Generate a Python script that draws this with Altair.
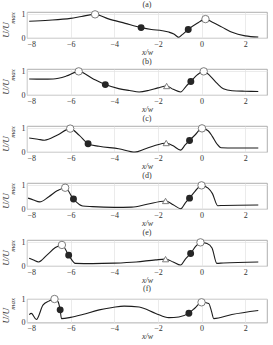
import altair as alt
import pandas as pd

FONT = "Liberation Serif"
X_TICKS = [-8, -6, -4, -2, 0, 2]
Y_TICKS = [0, 0.5, 1]
LABELS = ["(a)", "(b)", "(c)", "(d)", "(e)", "(f)"]

# velocity profiles U/Umax along x/w
a_x = [-7.9, -7.0, -6.0, -5.5, -4.88, -4.3, -3.5, -2.77, -2.3, -1.8, -1.5, -1.27, -1.04, -0.89, -0.61, -0.2, 0.18, 0.5, 0.94, 1.4, 2.0, 2.6]
a_y = [0.71, 0.75, 0.83, 0.91, 1.0, 0.82, 0.62, 0.44, 0.36, 0.31, 0.25, 0.17, 0.03, 0.14, 0.36, 0.62, 0.8, 0.67, 0.46, 0.24, 0.09, 0.04]

b_x = [-7.9, -7.3, -6.8, -6.2, -5.63, -5.0, -4.41, -3.8, -3.3, -2.86, -2.4, -2.0, -1.6, -1.3, -0.96, -0.7, -0.49, -0.2, 0.1, 0.4, 0.7, 1.0, 1.4, 2.0, 2.6]
b_y = [0.68, 0.67, 0.68, 0.8, 1.0, 0.7, 0.44, 0.27, 0.19, 0.13, 0.2, 0.3, 0.38, 0.24, 0.13, 0.38, 0.57, 0.85, 1.0, 0.8, 0.5, 0.26, 0.18, 0.16, 0.15]

c_x = [-7.9, -7.5, -7.2, -6.6, -6.02, -5.6, -5.2, -4.7, -3.8, -3.05, -2.6, -2.2, -1.62, -1.3, -0.96, -0.75, -0.55, -0.3, 0.02, 0.3, 0.5, 0.7, 0.9, 1.5, 2.6]
c_y = [0.59, 0.54, 0.5, 0.72, 0.99, 0.7, 0.35, 0.24, 0.14, 0.0, 0.13, 0.25, 0.38, 0.26, 0.08, 0.3, 0.49, 0.72, 1.0, 0.9, 0.65, 0.35, 0.18, 0.17, 0.17]

d_x = [-7.95, -7.7, -7.42, -7.0, -6.6, -6.25, -5.87, -5.45, -5.0, -4.0, -3.2, -2.5, -1.65, -1.3, -0.95, -0.75, -0.55, -0.3, 0.0, 0.3, 0.5, 0.74, 1.0, 2.6]
d_y = [0.46, 0.38, 0.3, 0.52, 0.78, 0.9, 0.42, 0.13, 0.1, 0.07, 0.08, 0.2, 0.34, 0.18, 0.01, 0.25, 0.46, 0.75, 1.0, 0.88, 0.65, 0.14, 0.15, 0.17]

e_x = [-7.9, -7.7, -7.47, -7.1, -6.7, -6.4, -6.09, -5.78, -5.0, -4.0, -3.0, -2.1, -1.65, -1.3, -0.96, -0.75, -0.5, -0.25, -0.05, 0.25, 0.48, 0.7, 1.0, 2.6]
e_y = [0.33, 0.25, 0.17, 0.45, 0.78, 0.89, 0.46, 0.11, 0.1, 0.12, 0.17, 0.26, 0.29, 0.17, 0.04, 0.28, 0.53, 0.85, 1.0, 0.95, 0.76, 0.11, 0.13, 0.17]

f_x = [-7.9, -7.8, -7.57, -7.27, -7.0, -6.74, -6.58, -6.48, -6.42, -6.0, -5.45, -4.69, -4.08, -3.55, -2.86, -2.1, -1.5, -1.04, -0.58, -0.3, 0.0, 0.33, 0.45, 0.56, 1.39, 2.6]
f_y = [0.34, 0.39, 0.13, 0.74, 0.91, 1.0, 0.89, 0.54, 0.17, 0.22, 0.34, 0.54, 0.64, 0.7, 0.66, 0.39, 0.21, 0.24, 0.4, 0.62, 0.86, 0.81, 0.5, 0.17, 0.34, 0.51]

# marker positions: open circles (peaks), filled circles, open triangles
open_x = [[-4.88, 0.18], [-5.63, 0.1], [-6.02, 0.02], [-6.25, 0.0], [-6.4, -0.05], [-6.74, 0.0]]
open_y = [[1.0, 0.8], [1.0, 1.0], [0.99, 1.0], [0.9, 1.0], [0.89, 1.0], [1.0, 0.86]]
fill_x = [[-2.77, -0.61], [-4.41, -0.49], [-5.2, -0.55], [-5.87, -0.55], [-6.09, -0.5], [-6.48, -0.58]]
fill_y = [[0.44, 0.36], [0.44, 0.57], [0.35, 0.49], [0.42, 0.46], [0.46, 0.53], [0.54, 0.4]]
tri_x = [[], [-1.6], [-1.62], [-1.65], [-1.65], []]
tri_y = [[], [0.38], [0.38], [0.34], [0.29], []]

Y_MAX = [1.1, 1.1, 1.1, 1.1, 1.1, 1.0]

curves = [(a_x, a_y), (b_x, b_y), (c_x, c_y), (d_x, d_y), (e_x, e_y), (f_x, f_y)]

W = 240
UNIT_H = 23.6


def panel(i):
    cx, cy = curves[i]
    ymax = Y_MAX[i]
    h = round(UNIT_H * ymax, 1)
    xs = alt.Scale(domain=[-8, 3], nice=False, zero=False)
    ys = alt.Scale(domain=[0, ymax], nice=False)
    xenc = alt.X("x:Q", scale=xs, axis=alt.Axis(
        values=X_TICKS, title="x/w", titleFontStyle="italic", titlePadding=0,
        labelPadding=2, format="d"))
    yenc = alt.Y("y:Q", scale=ys, axis=alt.Axis(values=Y_TICKS, title=None, labelPadding=2))

    line = alt.Chart(pd.DataFrame({"x": cx, "y": cy})).mark_line(
        color="#1c1c1c", strokeWidth=1.1, interpolate="monotone").encode(x=xenc, y=yenc)
    opened = alt.Chart(pd.DataFrame({"x": open_x[i], "y": open_y[i]})).mark_point(
        shape="circle", filled=True, fill="white", stroke="#6e6e6e", strokeWidth=0.9,
        size=55, opacity=1).encode(x="x:Q", y="y:Q")
    filled = alt.Chart(pd.DataFrame({"x": fill_x[i], "y": fill_y[i]})).mark_point(
        shape="circle", filled=True, color="#262626", size=48, opacity=1).encode(x="x:Q", y="y:Q")
    layers = [line, opened, filled]
    if tri_x[i]:
        tri = alt.Chart(pd.DataFrame({"x": tri_x[i], "y": tri_y[i]})).mark_point(
            shape="triangle-up", filled=True, fill="white", stroke="#6e6e6e",
            strokeWidth=0.9, size=38, opacity=1).encode(x="x:Q", y="y:Q")
        layers.append(tri)
    ylab = alt.Chart(pd.DataFrame({"t": ["U/U"]})).mark_text(
        angle=270, font=FONT, fontStyle="italic", fontSize=9, color="#333",
        align="center", baseline="middle").encode(
        x=alt.value(-21), y=alt.value(h / 2 + 5), text="t:N")
    ysub = alt.Chart(pd.DataFrame({"t": ["max"]})).mark_text(
        angle=270, font=FONT, fontStyle="italic", fontSize=7, color="#333",
        align="center", baseline="middle").encode(
        x=alt.value(-14), y=alt.value(h / 2 - 7), text="t:N")
    layers += [ylab, ysub]
    return alt.layer(*layers).properties(
        width=W, height=h,
        title=alt.TitleParams(text=LABELS[i], fontSize=8, font=FONT, fontWeight="normal",
                              anchor="middle", offset=0, color="#333", lineHeight=8))


chart = alt.vconcat(*[panel(i) for i in range(6)], spacing=0).properties(
    padding={"left": 1, "top": 0, "right": 5, "bottom": 0}
).configure_view(stroke="#9a9a9a", strokeWidth=0.8).configure_axis(
    labelFont=FONT, titleFont=FONT, labelFontSize=8, titleFontSize=8,
    labelColor="#333", titleColor="#333", domain=False, ticks=False,
    gridColor="#e3e3e3", gridWidth=0.7, titleFontWeight="normal"
)

chart.save("out.html", embed_options={"renderer": "svg", "actions": False})
